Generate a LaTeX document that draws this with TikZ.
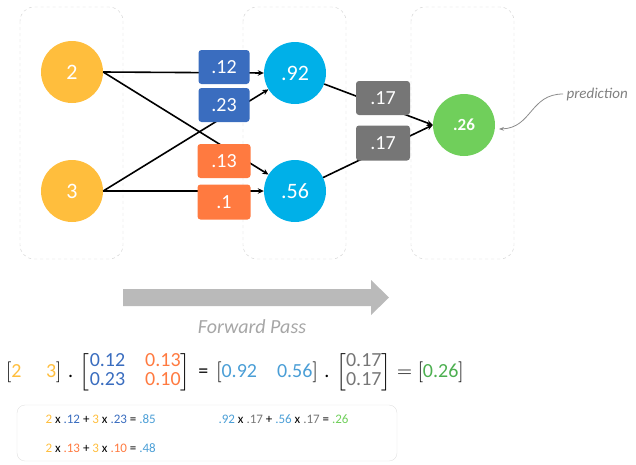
\documentclass[tikz,border=0pt]{standalone}
\usepackage{amsmath}
\usepackage{fontspec}
\setmainfont{Carlito}
\usetikzlibrary{arrows.meta}
\definecolor{inyellow}{RGB}{255,190,61}
\definecolor{hidcyan}{RGB}{0,176,232}
\definecolor{wblue}{RGB}{58,109,191}
\definecolor{worange}{RGB}{255,122,64}
\definecolor{wgray}{RGB}{118,118,118}
\definecolor{outgreen}{RGB}{112,207,91}
\definecolor{eqblue}{RGB}{74,158,214}
\definecolor{eqgreen}{RGB}{76,175,80}
\begin{document}
\begin{tikzpicture}[x=1pt,y=-1pt,
  layer/.style={draw=black!20, dashed, rounded corners=14pt},
  neuron/.style={circle, minimum size=62pt, inner sep=0pt, text=white, font=\fontsize{22}{26}\selectfont},
  weight/.style={rounded corners=3pt, minimum width=51pt, minimum height=34pt, inner sep=0pt, text=white, font=\fontsize{20}{24}\selectfont},
  link/.style={line width=1.6pt, -{Stealth[length=6pt,width=5.5pt]}}]
\useasboundingbox (0,0) rectangle (636,464);
\foreach \x in {20,243,411} {
    \draw[layer] (\x,7) rectangle ++(103,252);
}
% neurons
\node[neuron, fill=inyellow] (in2) at (72,72) {2};
\node[neuron, fill=inyellow] (in3) at (72,191) {3};
\node[neuron, fill=hidcyan] (h1) at (295,73) {.92};
\node[neuron, fill=hidcyan] (h2) at (295,191) {.56};
\node[neuron, fill=outgreen, font=\bfseries\fontsize{17}{20}\selectfont] (out) at (464,125) {.26};
% links
\draw[link] (in2.east) -- (h1.west);
\draw[link] (in2.east) -- (h2);
\draw[link] (in3.east) -- (h1);
\draw[link] (in3.east) -- (h2.west);
\draw[link] (h1) -- (out.west);
\draw[link] (h2) -- (out.west);
% weights
\node[weight, fill=wblue] (w12) at (224,67) {.12};
\node[weight, fill=wblue] (w23) at (224,105) {.23};
\node[weight, fill=worange, minimum width=53pt] (w13) at (224,161) {.13};
\node[weight, fill=worange, minimum width=53pt, minimum height=35pt] (w10) at (224,202) {.1};
\node[weight, fill=wgray, minimum width=54pt] (v1) at (383,98) {.17};
\node[weight, fill=wgray, minimum width=54pt, minimum height=35pt] (v2) at (383,143) {.17};
% prediction
\node[text=black!50, font=\itshape\fontsize{15}{18}\selectfont, anchor=west] (pred) at (563,94) {prediction};
\coordinate (predtip) at (499,129);
\draw[black!45, line width=0.8pt, -{Stealth[length=5pt]}] (pred.west) .. controls (530,94) and (532,128) .. (predtip);
% forward pass
\fill[black!27] (123,289) -- (371,289) -- (371,280) -- (389,297.5) -- (371,315) -- (371,306) -- (123,306) -- cycle;
\node[text=black!35, font=\itshape\fontsize{20}{24}\selectfont] (fwd) at (252,327) {Forward Pass};
% equation
\node[anchor=west, inner sep=0pt, font=\fontsize{20}{24}\selectfont] (eq) at (6,372) {\renewcommand\arraystretch{0.8}%
  $\left[\text{\color{inyellow}2\quad\ 3}\right]\text{\,.\,}%
  \left[\begin{array}{@{}l@{\quad}l@{}}\text{\color{wblue}0.12} & \text{\color{worange}0.13}\\ \text{\color{wblue}0.23} & \text{\color{worange}0.10}\end{array}\right]%
  \text{ = }\left[\text{\color{eqblue}0.92\quad 0.56}\right]\text{\,.\,}%
  \left[\begin{array}{@{}l@{}}\text{\color{wgray}0.17}\\ \text{\color{wgray}0.17}\end{array}\right] = \left[\text{\color{eqgreen}0.26}\right]$};
% sums
\draw[black!12, rounded corners=8pt] (17,405) rectangle (397,461);
\node[anchor=west, font=\fontsize{13}{15}\selectfont] (sum1) at (42,419) {\textcolor{inyellow}{2} x \textcolor{wblue}{.12} + \textcolor{inyellow}{3} x \textcolor{wblue}{.23} = \textcolor{eqblue}{.85}};
\node[anchor=west, font=\fontsize{13}{15}\selectfont] (sum2) at (42,448) {\textcolor{inyellow}{2} x \textcolor{worange}{.13} + \textcolor{inyellow}{3} x \textcolor{worange}{.10} = \textcolor{eqblue}{.48}};
\node[anchor=west, font=\fontsize{13}{15}\selectfont] (sum3) at (215,419) {\textcolor{eqblue}{.92} x \textcolor{wgray}{.17} + \textcolor{eqblue}{.56} x \textcolor{wgray}{.17} = \textcolor{outgreen}{.26}};
\end{tikzpicture}
\end{document}
